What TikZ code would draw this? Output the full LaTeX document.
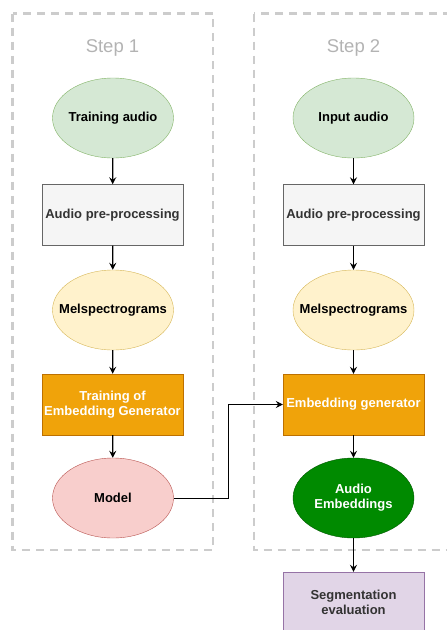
\documentclass[tikz,border=0pt]{standalone}
\usepackage{fontspec}
\setmainfont{Liberation Sans}
\usetikzlibrary{shapes.geometric,arrows.meta}
\definecolor{gfill}{HTML}{D5E8D4}\definecolor{gline}{HTML}{82B366}
\definecolor{pfill}{HTML}{F5F5F5}\definecolor{pline}{HTML}{666666}
\definecolor{yfill}{HTML}{FFF2CC}\definecolor{yline}{HTML}{D6B656}
\definecolor{ofill}{HTML}{F0A30A}\definecolor{oline}{HTML}{BD7000}
\definecolor{rfill}{HTML}{F8CECC}\definecolor{rline}{HTML}{B85450}
\definecolor{dfill}{HTML}{008A00}\definecolor{dline}{HTML}{005700}
\definecolor{vfill}{HTML}{E1D5E7}\definecolor{vline}{HTML}{9673A6}
\definecolor{frame}{HTML}{CCCCCC}\definecolor{steptxt}{HTML}{B3B3B3}
\definecolor{dtext}{HTML}{333333}
\begin{document}
\begin{tikzpicture}[x=1pt,y=-1pt,
  ell/.style={ellipse,draw,minimum width=121pt,minimum height=80pt,inner sep=0pt,font=\fontsize{13}{15}\selectfont\bfseries,align=center},
  box/.style={rectangle,draw,minimum width=141pt,minimum height=61pt,inner sep=0pt,font=\fontsize{13}{15}\selectfont\bfseries,align=center},
  frm/.style={draw=frame,line width=2.5pt,dash pattern=on 8pt off 6pt},
  steplbl/.style={text=steptxt,font=\fontsize{18.5}{22}\selectfont},
  arr/.style={-{Stealth[length=7pt,width=7pt,inset=2.5pt]},line width=1.3pt}]
\useasboundingbox (0,0) rectangle (447,630);
\begin{scope}
\clip (0,0) rectangle (447,630);
\draw[frm] (12.5,13.5) rectangle (213,550);
\draw[frm] (254,13.5) rectangle (460,550);
\node[steplbl] (s1) at (112.5,48) {Step 1};
\node[steplbl] (s2) at (353.5,48) {Step 2};
\node[ell,fill=gfill,draw=gline] (ta) at (113,118) {\makebox[0pt]{Training audio}};
\node[box,fill=pfill,draw=pline,text=dtext] (pp1) at (112.5,215) {Audio pre-processing};
\node[ell,fill=yfill,draw=yline] (ms1) at (113,310) {\makebox[0pt]{Melspectrograms}};
\node[box,fill=ofill,draw=oline,text=white,minimum height=61pt] (tr) at (112.5,404.5) {Training of\\Embedding Generator};
\node[ell,fill=rfill,draw=rline] (mo) at (113,498) {\makebox[0pt]{Model}};
\node[ell,fill=gfill,draw=gline] (ia) at (353.5,118) {\makebox[0pt]{Input audio}};
\node[box,fill=pfill,draw=pline,text=dtext] (pp2) at (353.5,215) {Audio pre-processing};
\node[ell,fill=yfill,draw=yline] (ms2) at (353.5,310) {\makebox[0pt]{Melspectrograms}};
\node[box,fill=ofill,draw=oline,text=white] (eg) at (353.5,404.5) {Embedding generator};
\node[ell,fill=dfill,draw=dline,text=white] (ae) at (353.5,498) {Audio\\Embeddings};
\node[box,fill=vfill,draw=vline,text=dtext,minimum height=60pt] (se) at (353.5,602) {Segmentation\\evaluation};
\draw[arr] (ta) -- (pp1);
\draw[arr] (pp1) -- (ms1);
\draw[arr] (ms1) -- (tr);
\draw[arr] (tr) -- (mo);
\draw[arr] (ia) -- (pp2);
\draw[arr] (pp2) -- (ms2);
\draw[arr] (ms2) -- (eg);
\draw[arr] (eg) -- (ae);
\draw[arr] (ae) -- (se);
\draw[-{Stealth[length=7pt,width=7pt,inset=2.5pt]},line width=0.8pt] (mo.east) -| (228,404.5) -- (eg.west);
\end{scope}
\end{tikzpicture}
\end{document}
